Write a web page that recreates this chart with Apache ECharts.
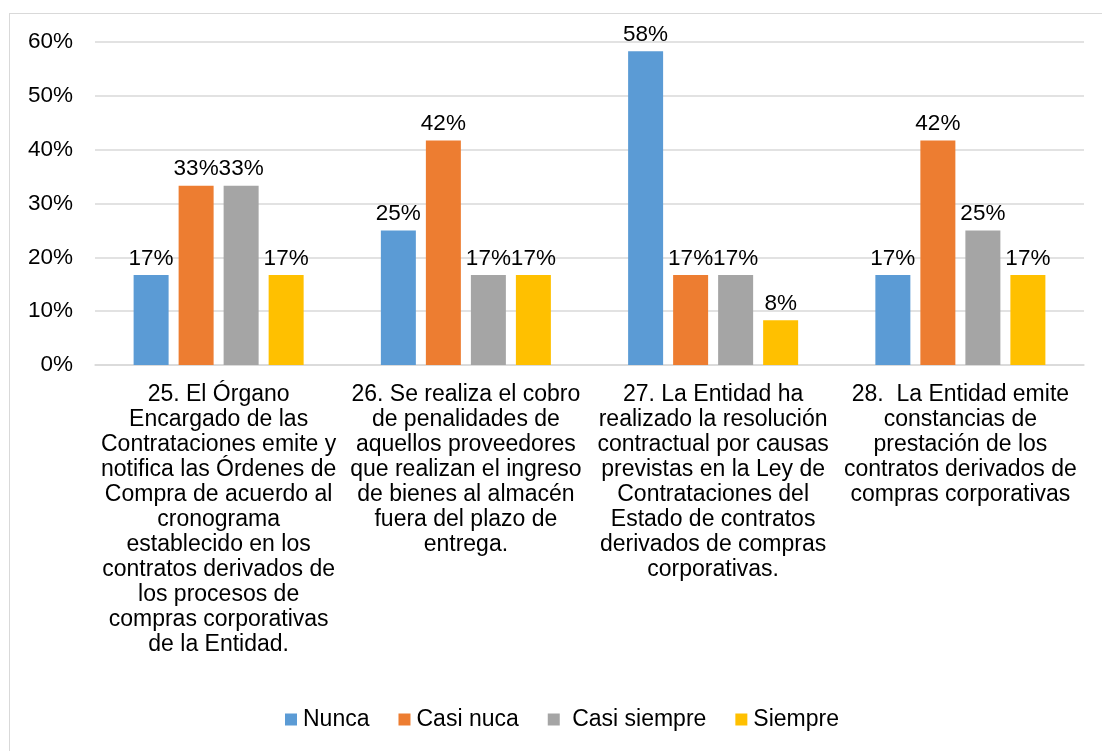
<!DOCTYPE html>
<html>
<head>
<meta charset="utf-8">
<script src="https://cdn.jsdelivr.net/npm/echarts@6/dist/echarts.min.js"></script>
<style>
html,body{margin:0;padding:0;background:#fff;}
#frame{position:absolute;left:9px;top:13px;width:1200px;height:900px;border:1.5px solid #D9D9D9;box-sizing:border-box;}
#chart{position:absolute;left:0;top:0;width:1102px;height:751px;}
</style>
</head>
<body>
<div id="frame"></div>
<div id="chart"></div>
<script>
const categories = [
  "25. El Órgano\nEncargado de las\nContrataciones emite y\nnotifica las Órdenes de\nCompra de acuerdo al\ncronograma\nestablecido en los\ncontratos derivados de\nlos procesos de\ncompras corporativas\nde la Entidad.",
  "26. Se realiza el cobro\nde penalidades de\naquellos proveedores\nque realizan el ingreso\nde bienes al almacén\nfuera del plazo de\nentrega.",
  "27. La Entidad ha\nrealizado la resolución\ncontractual por causas\nprevistas en la Ley de\nContrataciones del\nEstado de contratos\nderivados de compras\ncorporativas.",
  "28.  La Entidad emite\nconstancias de\nprestación de los\ncontratos derivados de\ncompras corporativas"
];
const seriesNames = ["Nunca", "Casi nuca", " Casi siempre", "Siempre"];
const nunca = [16.7, 25.0, 58.3, 16.7];
const casiNuca = [33.3, 41.7, 16.7, 41.7];
const casiSiempre = [33.3, 16.7, 16.7, 25.0];
const siempre = [16.7, 16.7, 8.3, 16.7];
const colors = ["#5B9BD5", "#ED7D31", "#A5A5A5", "#FFC000"];
const yTicks = { min: 0, max: 60, interval: 10 };

const font = "'Liberation Sans', Arial, sans-serif";
const chart = echarts.init(document.getElementById('chart'), null, { renderer: 'canvas' });
const values = [nunca, casiNuca, casiSiempre, siempre];

chart.setOption({
  animation: false,
  color: colors,
  textStyle: { fontFamily: font },
  grid: { left: 95, right: 18, top: 42, bottom: 386, containLabel: false },
  legend: {
    top: 708,
    left: 285,
    padding: 0,
    itemWidth: 12,
    itemHeight: 12,
    itemGap: 29,
    icon: 'rect',
    textStyle: { fontFamily: font, fontSize: 23, color: '#000', padding: [0, 0, 0, 1] },
    data: seriesNames
  },
  xAxis: {
    type: 'category',
    data: categories,
    axisLine: { show: true, lineStyle: { color: '#D9D9D9', width: 1.5 } },
    axisTick: { show: false },
    axisLabel: {
      interval: 0,
      margin: 17,
      fontFamily: font,
      fontSize: 23,
      lineHeight: 25,
      color: '#000',
      align: 'center'
    }
  },
  yAxis: {
    type: 'value',
    min: yTicks.min,
    max: yTicks.max,
    interval: yTicks.interval,
    axisLine: { show: false },
    axisTick: { show: false },
    splitLine: { lineStyle: { color: '#D9D9D9', width: 1.5 } },
    axisLabel: {
      margin: 22,
      fontFamily: font,
      fontSize: 22.5,
      color: '#000',
      formatter: '{value}%'
    }
  },
  series: seriesNames.map((name, i) => ({
    name: name,
    type: 'bar',
    data: values[i],
    barWidth: 35,
    barGap: '28.6%',
    itemStyle: { color: colors[i] },
    label: {
      show: true,
      position: 'top',
      distance: 5,
      fontFamily: font,
      fontSize: 22.5,
      color: '#000',
      formatter: p => Math.round(p.value) + '%'
    }
  }))
});
</script>
</body>
</html>
